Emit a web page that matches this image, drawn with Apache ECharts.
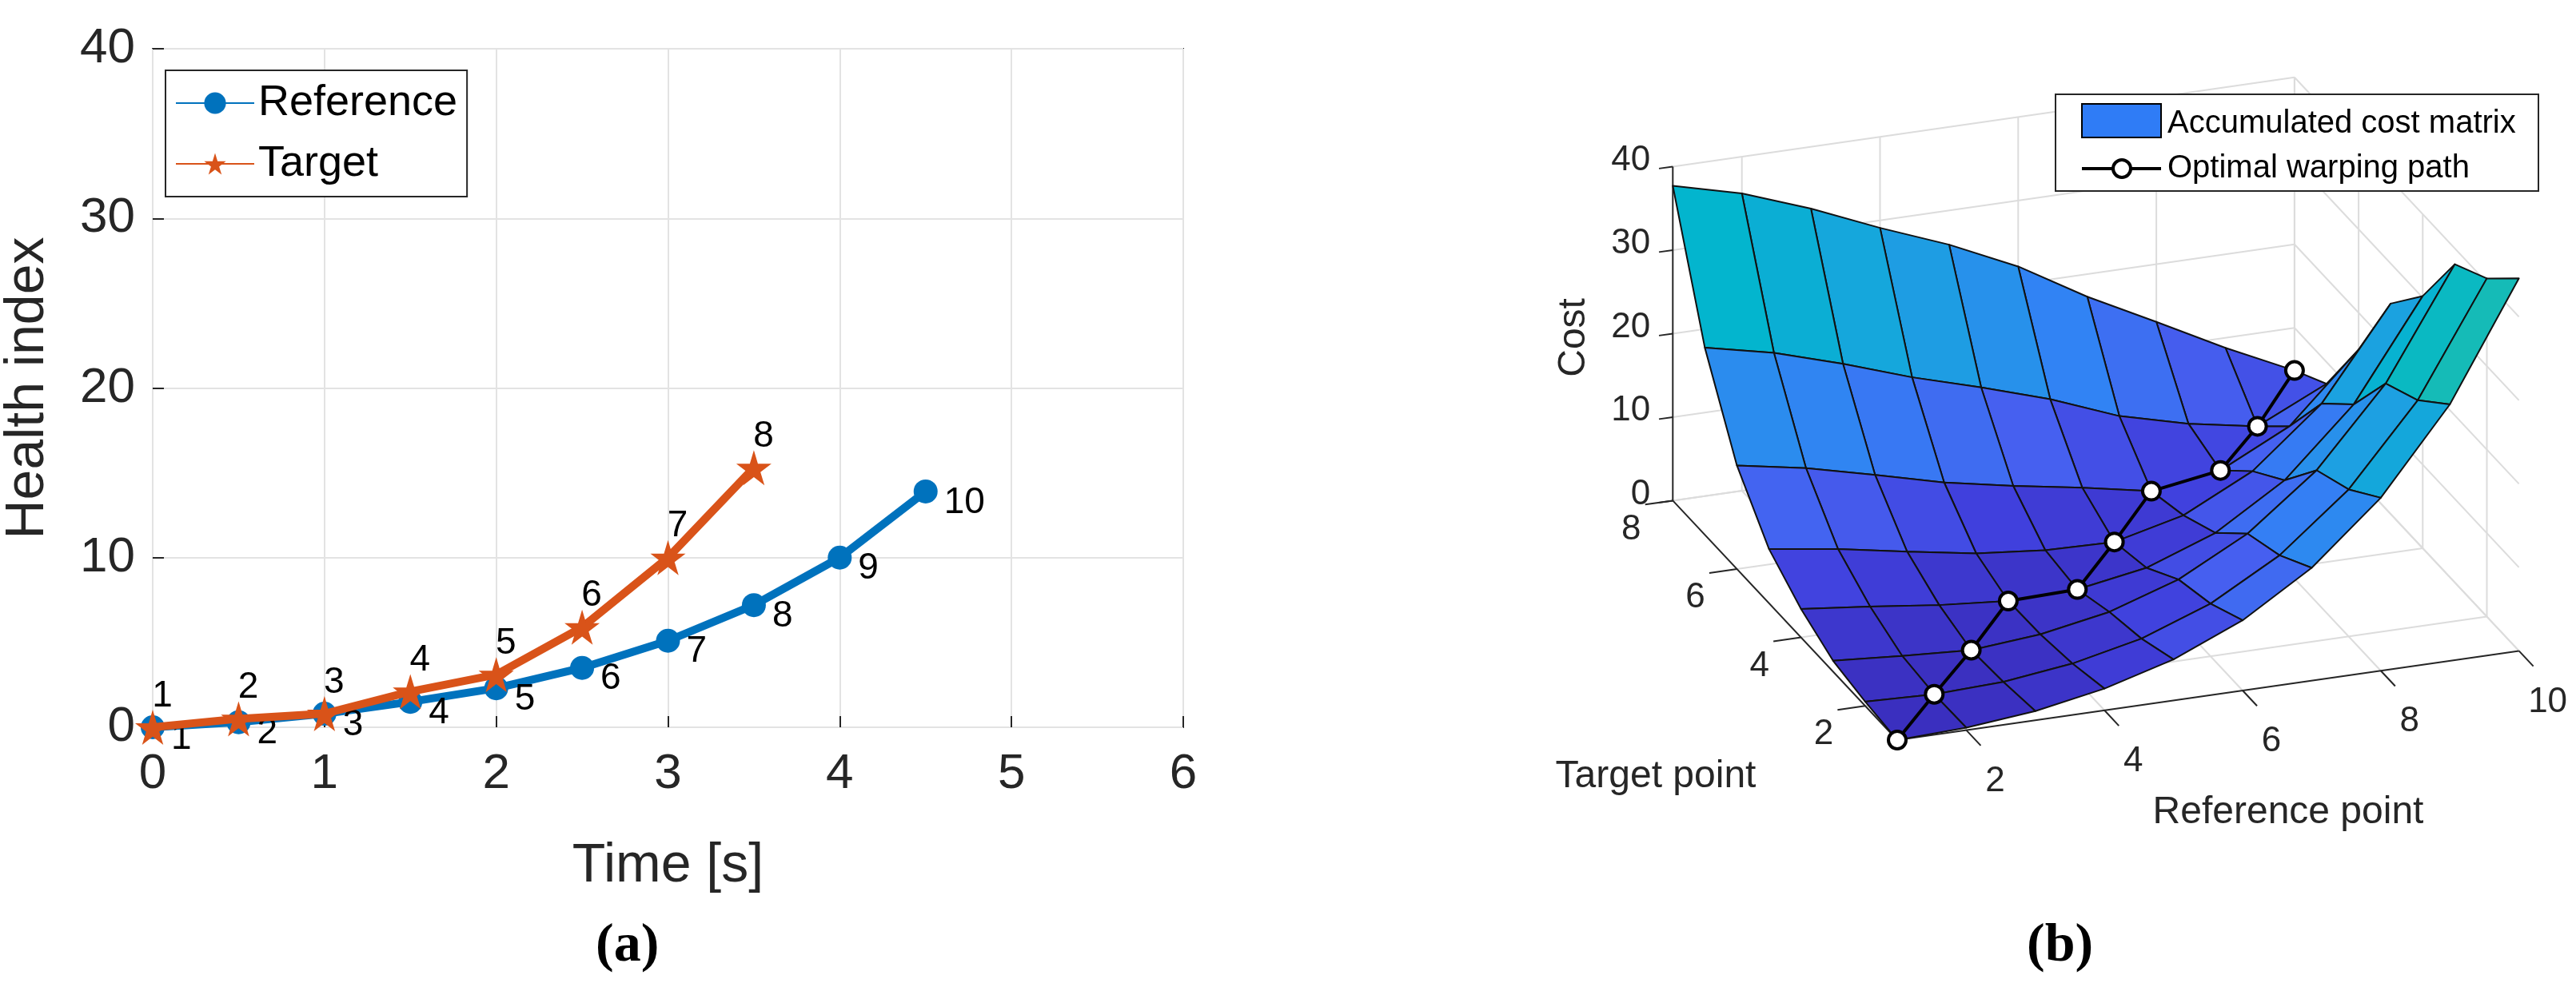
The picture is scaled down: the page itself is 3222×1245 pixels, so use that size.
<!DOCTYPE html>
<html><head><meta charset="utf-8">
<script src="https://cdn.jsdelivr.net/npm/echarts@6/dist/echarts.min.js"></script>
<style>html,body{margin:0;padding:0;background:#fff}#c{width:3222px;height:1245px}</style>
</head><body><div id="c"></div>
<script>
// ---- Panel (a) data ----
const refTime = [0, 0.5, 1, 1.5, 2, 2.5, 3, 3.5, 4, 4.5];
const refHealth = [0, 0.3, 0.8, 1.5, 2.3, 3.5, 5.1, 7.2, 10, 13.9];
const tgtTime = [0, 0.5, 1, 1.5, 2, 2.5, 3, 3.5];
const tgtHealth = [0, 0.5, 0.8, 2.1, 3.1, 5.9, 10, 15.3];
const xTicks = [0, 1, 2, 3, 4, 5, 6];
const yTicks = [0, 10, 20, 30, 40];
// ---- Panel (b) data: accumulated cost matrix, rows = target point 1..8, cols = reference point 1..10 ----
const cost = [
  [0, 0.3, 1.1, 2.6, 4.9, 8.4, 13.5, 20.7, 30.7, 44.6],
  [0.5, 0.2, 0.5, 1.5, 3.3, 6.3, 10.9, 17.6, 27.1, 40.5],
  [1.3, 0.7, 0.2, 0.9, 2.4, 5.1, 9.4, 15.8, 25.0, 38.1],
  [3.4, 2.5, 1.5, 0.8, 1.0, 2.4, 5.4, 10.5, 18.4, 30.2],
  [6.5, 5.3, 3.8, 2.4, 1.6, 1.4, 3.4, 7.5, 14.4, 25.2],
  [12.4, 10.9, 8.9, 6.8, 5.2, 3.8, 2.2, 3.5, 7.6, 15.6],
  [22.4, 20.6, 18.1, 15.3, 12.9, 10.3, 7.1, 5.0, 3.5, 7.4],
  [37.7, 35.6, 32.6, 29.1, 25.9, 22.1, 17.3, 13.1, 8.8, 4.9]
];
const pathRef = [1, 2, 3, 4, 5, 6, 7, 8, 9, 10];
const pathTgt = [1, 2, 3, 4, 4, 5, 6, 6, 7, 8];
const refTicks = [2, 4, 6, 8, 10];
const tgtTicks = [2, 4, 6, 8];
const costTicks = [0, 10, 20, 30, 40];

const NX = 10, NY = 8, ZMAX = 40;
// projection (view of the 3D box)
function proj(i, j, z) {
  return [2373 + (i - 1) * 86.4 - (j - 1) * 40.1,
          926 - (i - 1) * 12.4 - (j - 1) * 42.8 - z * 10.45];
}
const stops = [[0,[58,46,189]],[4,[64,64,221]],[8,[70,96,240]],[14,[50,130,244]],[22,[27,162,224]],[30,[0,183,204]],[38,[30,188,175]],[42,[96,200,112]],[45,[156,203,60]]];
function colorOf(z) {
  for (let k = 1; k < stops.length; k++) {
    if (z <= stops[k][0]) {
      const a = stops[k-1], b = stops[k], t = (z - a[0]) / (b[0] - a[0]);
      const c = a[1].map((v, n) => Math.round(v + (b[1][n] - v) * t));
      return 'rgb(' + c.join(',') + ')';
    }
  }
  return 'rgb(156,203,60)';
}
const cells = [];
for (let j = 1; j < NY; j++) for (let i = 1; i < NX; i++) cells.push([i, j]);
cells.sort((a, b) => (12.4 * b[0] + 42.8 * b[1]) - (12.4 * a[0] + 42.8 * a[1]));

const FB = '"Liberation Sans", Arial, sans-serif';
const FA = '"Liberation Sans Narrow", "Liberation Sans", Arial, sans-serif';
const star = 'path://M50,0 L61,35 L98,35 L68,57 L79,91 L50,70 L21,91 L32,57 L2,35 L39,35 Z';

const chart = echarts.init(document.getElementById('c'));
chart.setOption({
  animation: false,
  backgroundColor: '#fff',
  grid: [
    {left: 180, width: 1300, top: 61, height: 849, show: true, borderColor: '#262626', borderWidth: 2, backgroundColor: '#fff'},
    {left: 1750, width: 1472, top: 0, height: 1245}
  ],
  legend: {
    left: 207, top: 88, width: 378, orient: 'vertical', padding: [14, 12, 14, 12], itemGap: 22,
    itemWidth: 98, itemHeight: 34, borderColor: '#262626', borderWidth: 2, backgroundColor: '#fff',
    textStyle: {fontFamily: FA, fontSize: 54, color: '#000'},
    data: ['Reference', 'Target']
  },
  xAxis: [
    {gridIndex: 0, type: 'value', min: 0, max: 6, interval: 1,
     name: 'Time [s]', nameLocation: 'middle', nameGap: 140, nameTextStyle: {fontFamily: FA, fontSize: 68, color: '#262626'},
     axisLine: {show: false}, axisTick: {inside: true, length: 14, lineStyle: {color: '#262626', width: 2}},
     axisLabel: {fontFamily: FA, fontSize: 62, color: '#262626', margin: 28, formatter: v => xTicks.includes(v) ? String(v) : ''},
     splitLine: {lineStyle: {color: '#e3e3e3', width: 2}}},
    {gridIndex: 1, type: 'value', min: 1750, max: 3222, show: false}
  ],
  yAxis: [
    {gridIndex: 0, type: 'value', min: 0, max: 40, interval: 10,
     name: 'Health index', nameLocation: 'middle', nameGap: 122, nameTextStyle: {fontFamily: FA, fontSize: 68, color: '#262626'},
     axisLine: {show: false}, axisTick: {inside: true, length: 14, lineStyle: {color: '#262626', width: 2}},
     axisLabel: {fontFamily: FA, fontSize: 62, color: '#262626', margin: 22, formatter: v => yTicks.includes(v) ? String(v) : ''},
     splitLine: {lineStyle: {color: '#e3e3e3', width: 2}}},
    {gridIndex: 1, type: 'value', min: 0, max: 1245, inverse: true, show: false}
  ],
  series: [
    {name: 'Reference', type: 'line', xAxisIndex: 0, yAxisIndex: 0,
     data: refTime.map((t, k) => [t, refHealth[k]]),
     lineStyle: {color: '#0072BD', width: 10}, itemStyle: {color: '#0072BD'},
     symbol: 'circle', symbolSize: 30, z: 3,
     label: {show: true, position: 'right', distance: 8, offset: [0, 14], fontFamily: FA, fontSize: 46, color: '#000',
             formatter: p => String(p.dataIndex + 1)}},
    {name: 'Target', type: 'line', xAxisIndex: 0, yAxisIndex: 0,
     data: tgtTime.map((t, k) => [t, tgtHealth[k]]),
     lineStyle: {color: '#D95319', width: 10}, itemStyle: {color: '#D95319'},
     symbol: star, symbolSize: 44, z: 4,
     label: {show: true, position: 'top', distance: 0, offset: [12, 6], fontFamily: FA, fontSize: 46, color: '#000',
             formatter: p => String(p.dataIndex + 1)}},
    // 3D box, grid lines, ticks and labels
    {type: 'custom', xAxisIndex: 1, yAxisIndex: 1, data: [[0, 0]], z: 1, silent: true,
     renderItem: (params, api) => {
       const ch = [];
       const C = (i, j, z) => api.coord(proj(i, j, z));
       const ln = (a, b, color, w) => ch.push({type: 'line', shape: {x1: a[0], y1: a[1], x2: b[0], y2: b[1]}, style: {stroke: color, lineWidth: w}});
       const tx = (p, s, align, size) => ch.push({type: 'text', x: p[0], y: p[1], style: {text: s, fill: '#262626', font: size + 'px ' + FB, align: align, verticalAlign: 'middle'}});
       const G = '#dcdcdc';
       costTicks.forEach(z => { ln(C(1, NY, z), C(NX, NY, z), G, 2); ln(C(NX, NY, z), C(NX, 1, z), G, 2); });
       refTicks.forEach(i => { ln(C(i, NY, 0), C(i, NY, ZMAX), G, 2); ln(C(i, 1, 0), C(i, NY, 0), G, 2); });
       tgtTicks.forEach(j => { ln(C(NX, j, 0), C(NX, j, ZMAX), G, 2); ln(C(1, j, 0), C(NX, j, 0), G, 2); });
       const A = '#262626';
       ln(C(1, NY, 0), C(1, NY, ZMAX), A, 2);
       ln(C(1, 1, 0), C(NX, 1, 0), A, 2);
       ln(C(1, 1, 0), C(1, NY, 0), A, 2);
       costTicks.forEach(z => { ln(C(1, NY, z), C(0.8, NY, z), A, 2); const p = C(1, NY, z); tx([p[0] - 28, p[1] - 8], String(z), 'right', 44); });
       refTicks.forEach(i => { ln(C(i, 1, 0), C(i, 0.55, 0), A, 2); const p = C(i, 1, 0); tx([p[0] + 36, p[1] + 64], String(i), 'center', 44); });
       tgtTicks.forEach(j => { ln(C(1, j, 0), C(0.6, j, 0), A, 2); const p = C(1, j, 0); tx([p[0] - 52, p[1] + 36], String(j), 'center', 44); });
       const pz = C(1, NY, 20);
       ch.push({type: 'text', x: pz[0] - 124, y: pz[1] + 5, rotation: Math.PI / 2, style: {text: 'Cost', fill: '#262626', font: '48px ' + FB, align: 'center', verticalAlign: 'middle'}});
       return {type: 'group', children: ch};
     }},
    // surface
    {type: 'custom', xAxisIndex: 1, yAxisIndex: 1, data: cells, z: 2, silent: true,
     encode: {x: -1, y: -1},
     renderItem: (params, api) => {
       const i = api.value(0), j = api.value(1);
       const z00 = cost[j-1][i-1], z10 = cost[j-1][i], z11 = cost[j][i], z01 = cost[j][i-1];
       const pts = [proj(i, j, z00), proj(i + 1, j, z10), proj(i + 1, j + 1, z11), proj(i, j + 1, z01)].map(p => api.coord(p));
       return {type: 'polygon', shape: {points: pts},
               style: {fill: colorOf((z00 + z10 + z11 + z01) / 4), stroke: '#111', lineWidth: 2, lineJoin: 'round'}};
     }},
    // warping path
    {type: 'line', xAxisIndex: 1, yAxisIndex: 1, z: 5, silent: true,
     data: pathRef.map((i, k) => proj(i, pathTgt[k], cost[pathTgt[k]-1][i-1])),
     lineStyle: {color: '#000', width: 4}, symbol: 'circle', symbolSize: 22,
     itemStyle: {color: '#fff', borderColor: '#000', borderWidth: 4}}
  ],
  graphic: [
    {type: 'text', left: 805 - 60, top: 1150, style: {text: '(a)', font: 'bold 68px "Liberation Serif", serif', fill: '#000'}},
    {type: 'text', left: 2595 - 60, top: 1150, style: {text: '(b)', font: 'bold 68px "Liberation Serif", serif', fill: '#000'}},
    {type: 'text', x: 2071, y: 972, style: {text: 'Target point', font: '48px ' + FB, fill: '#262626', align: 'center', verticalAlign: 'middle'}},
    {type: 'text', x: 2862, y: 1017, style: {text: 'Reference point', font: '48px ' + FB, fill: '#262626', align: 'center', verticalAlign: 'middle'}},
    {type: 'rect', shape: {x: 2571, y: 118, width: 604, height: 121}, style: {fill: '#fff', stroke: '#262626', lineWidth: 2}, z: 10},
    {type: 'rect', shape: {x: 2604, y: 130, width: 99, height: 42}, style: {fill: '#2f7cf6', stroke: '#000', lineWidth: 2}, z: 11},
    {type: 'text', x: 2711, y: 155, style: {text: 'Accumulated cost matrix', font: '40px ' + FB, fill: '#000', verticalAlign: 'middle'}, z: 11},
    {type: 'line', shape: {x1: 2604, y1: 211, x2: 2703, y2: 211}, style: {stroke: '#000', lineWidth: 4}, z: 11},
    {type: 'circle', shape: {cx: 2654, cy: 211, r: 11}, style: {fill: '#fff', stroke: '#000', lineWidth: 4}, z: 12},
    {type: 'text', x: 2711, y: 211, style: {text: 'Optimal warping path', font: '40px ' + FB, fill: '#000', verticalAlign: 'middle'}, z: 11}
  ]
});
</script></body></html>
